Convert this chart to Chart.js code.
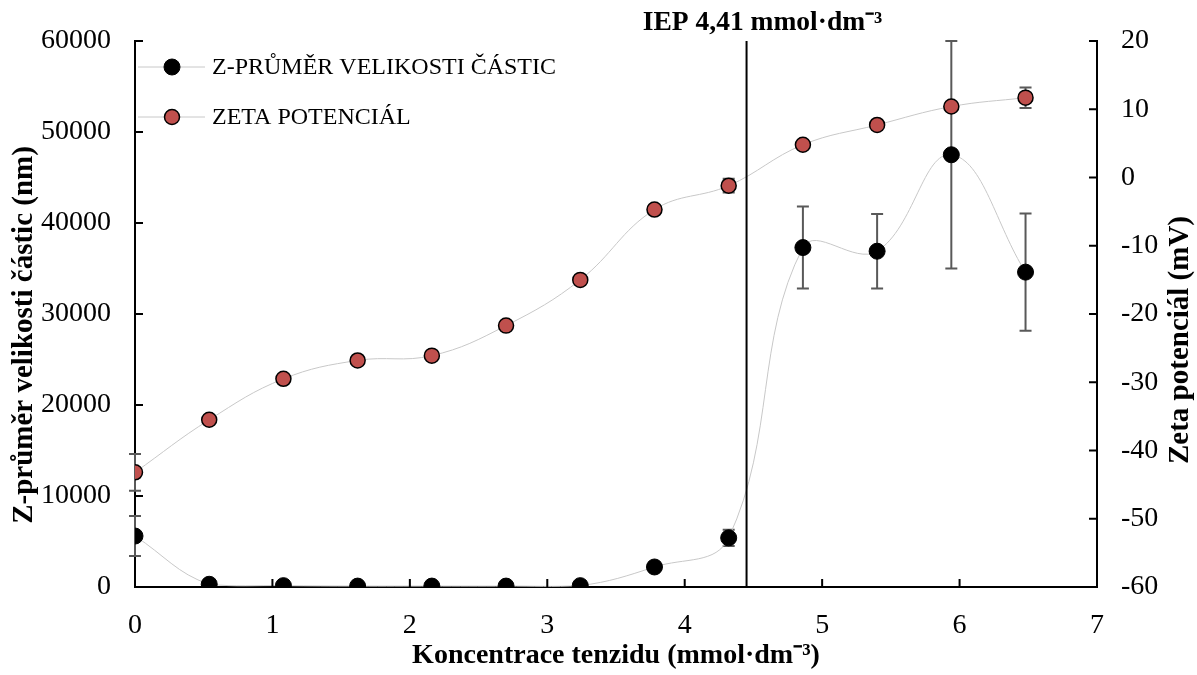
<!DOCTYPE html>
<html>
<head>
<meta charset="utf-8">
<script src="https://cdn.jsdelivr.net/npm/chart.js@4"></script>
<style>
  html, body { margin: 0; padding: 0; background: #fff; }
  canvas { display: block; }
</style>
</head>
<body>
<canvas id="chart" width="1197" height="675"></canvas>
<script>
// Z-average particle size and zeta potential vs. surfactant concentration

const concentration = [0, 0.54, 1.08, 1.62, 2.16, 2.70, 3.24, 3.78, 4.32, 4.86, 5.40, 5.94, 6.48];
const zAverage      = [5600, 300, 150, 100, 100, 100, 150, 2200, 5400, 37300, 36900, 47500, 34600];
const zAverageErr   = [2200, 0, 0, 0, 0, 0, 0, 0, 900, 4500, 4100, 12500, 6450];
const zetaPotential = [-43.2, -35.5, -29.5, -26.8, -26.1, -21.7, -15.0, -4.7, -1.2, 4.8, 7.7, 10.4, 11.7];
const zetaErr       = [2.7, 0, 0, 0, 0, 0, 0, 0, 1.0, 0, 0, 0, 1.5];

const xTicks = [0, 1, 2, 3, 4, 5, 6, 7];
const leftTicks = [0, 10000, 20000, 30000, 40000, 50000, 60000];
const rightTicks = [-60, -50, -40, -30, -20, -10, 0, 10, 20];

const iepX = 4.45;
const iepLabel = 'IEP 4,41 mmol·dm⁻³';
const leftTitle = 'Z-průměr velikosti částic (nm)';
const rightTitle = 'Zeta potenciál (mV)';

const FONT = "'Liberation Serif', 'Times New Roman', serif";

const toPoints = (ys) => ys.map((y, i) => ({ x: concentration[i], y: y }));

// error bars, IEP line, inner tick marks, legend and vertical titles
const extras = {
    id: 'extras',
    beforeDatasetsDraw(chart) {
        const { ctx } = chart;
        ctx.save();
        ctx.strokeStyle = '#595959';
        ctx.lineWidth = 2;
        chart.data.datasets.forEach((ds) => {
            const yScale = chart.scales[ds.yAxisID];
            ds.errors.forEach((e, i) => {
                if (!e) return;
                const px = chart.scales.x.getPixelForValue(ds.data[i].x);
                const top = yScale.getPixelForValue(ds.data[i].y + e);
                const bot = yScale.getPixelForValue(ds.data[i].y - e);
                ctx.beginPath();
                ctx.moveTo(px, top); ctx.lineTo(px, bot);
                ctx.moveTo(px - 6, top); ctx.lineTo(px + 6, top);
                ctx.moveTo(px - 6, bot); ctx.lineTo(px + 6, bot);
                ctx.stroke();
            });
        });
        ctx.restore();
    },
    afterDraw(chart) {
        const { ctx, chartArea: a, scales } = chart;
        ctx.save();

        // tick marks pointing into the plot
        ctx.strokeStyle = '#000';
        ctx.lineWidth = 2;
        ctx.beginPath();
        xTicks.forEach(v => {
            const px = scales.x.getPixelForValue(v);
            ctx.moveTo(px, a.bottom); ctx.lineTo(px, a.bottom - 8);
        });
        leftTicks.forEach(v => {
            const py = scales.y.getPixelForValue(v);
            ctx.moveTo(a.left, py); ctx.lineTo(a.left + 8, py);
        });
        rightTicks.forEach(v => {
            const py = scales.y1.getPixelForValue(v);
            ctx.moveTo(a.right, py); ctx.lineTo(a.right - 8, py);
        });
        ctx.stroke();

        // IEP line
        const ix = scales.x.getPixelForValue(iepX);
        ctx.beginPath();
        ctx.moveTo(ix, a.top); ctx.lineTo(ix, a.bottom);
        ctx.stroke();
        ctx.fillStyle = '#000';
        ctx.font = 'bold 27.5px ' + FONT;
        ctx.textAlign = 'center';
        ctx.textBaseline = 'middle';
        ctx.fillText(iepLabel, ix + 16, 23);

        // legend
        ctx.font = '24px ' + FONT;
        ctx.textAlign = 'left';
        chart.data.datasets.forEach((ds, i) => {
            const y = 67 + i * 50;
            ctx.strokeStyle = ds.borderColor;
            ctx.lineWidth = 1;
            ctx.beginPath();
            ctx.moveTo(138, y); ctx.lineTo(205, y);
            ctx.stroke();
            ctx.beginPath();
            ctx.arc(172, y, ds.pointRadius, 0, Math.PI * 2);
            ctx.fillStyle = ds.pointBackgroundColor;
            ctx.fill();
            ctx.lineWidth = ds.pointBorderWidth;
            ctx.strokeStyle = ds.pointBorderColor;
            ctx.stroke();
            ctx.fillStyle = '#000';
            ctx.fillText(ds.label, 212, y + 1);
        });

        // vertical axis titles, both reading bottom to top
        ctx.font = 'bold 29px ' + FONT;
        ctx.textAlign = 'center';
        [[25, 335, leftTitle], [1181, 340, rightTitle]].forEach(([tx, ty, text]) => {
            ctx.save();
            ctx.translate(tx, ty);
            ctx.rotate(-Math.PI / 2);
            ctx.fillText(text, 0, 0);
            ctx.restore();
        });
        ctx.restore();
    }
};

const tickFont = { family: FONT, size: 28 };

new Chart(document.getElementById('chart'), {
    type: 'scatter',
    data: {
        datasets: [{
            label: 'Z-PRŮMĚR VELIKOSTI ČÁSTIC',
            data: toPoints(zAverage),
            errors: zAverageErr,
            yAxisID: 'y',
            showLine: true,
            tension: 0.4,
            borderColor: '#c8c8c8',
            borderWidth: 1,
            pointRadius: 8,
            pointBackgroundColor: '#000',
            pointBorderColor: '#000',
            pointBorderWidth: 1
        }, {
            label: 'ZETA POTENCIÁL',
            data: toPoints(zetaPotential),
            errors: zetaErr,
            yAxisID: 'y1',
            showLine: true,
            tension: 0.4,
            borderColor: '#c8c8c8',
            borderWidth: 1,
            pointRadius: 7.5,
            pointBackgroundColor: '#c0504d',
            pointBorderColor: '#000',
            pointBorderWidth: 1.5
        }]
    },
    options: {
        responsive: false,
        animation: false,
        layout: { padding: { top: 41, left: 0, right: 0, bottom: 0 } },
        scales: {
            x: {
                type: 'linear',
                position: 'bottom',
                min: 0, max: 7,
                afterFit: (s) => { s.height = 88; },
                afterBuildTicks: (s) => { s.ticks = xTicks.map(v => ({ value: v })); },
                grid: { display: false, drawTicks: false },
                border: { display: true, color: '#000', width: 2 },
                ticks: { color: '#000', padding: 22, font: tickFont, callback: v => String(v) },
                title: {
                    display: true,
                    text: 'Koncentrace tenzidu (mmol·dm⁻³)',
                    color: '#000',
                    font: { family: FONT, size: 28, weight: 'bold' },
                    padding: { top: 0, bottom: 2 }
                }
            },
            y: {
                position: 'left',
                min: 0, max: 60000,
                afterFit: (s) => { s.width = 135; },
                afterBuildTicks: (s) => { s.ticks = leftTicks.map(v => ({ value: v })); },
                grid: { display: false, drawTicks: false },
                border: { display: true, color: '#000', width: 2 },
                ticks: { color: '#000', padding: 24, font: tickFont, callback: v => String(v) }
            },
            y1: {
                position: 'right',
                min: -60, max: 20,
                afterFit: (s) => { s.width = 100; },
                afterBuildTicks: (s) => { s.ticks = rightTicks.map(v => ({ value: v })); },
                grid: { display: false, drawTicks: false },
                border: { display: true, color: '#000', width: 2 },
                ticks: { color: '#000', padding: 24, font: tickFont, callback: v => String(v) }
            }
        },
        plugins: {
            legend: { display: false },
            tooltip: { enabled: false }
        }
    },
    plugins: [extras]
});
</script>
</body>
</html>
